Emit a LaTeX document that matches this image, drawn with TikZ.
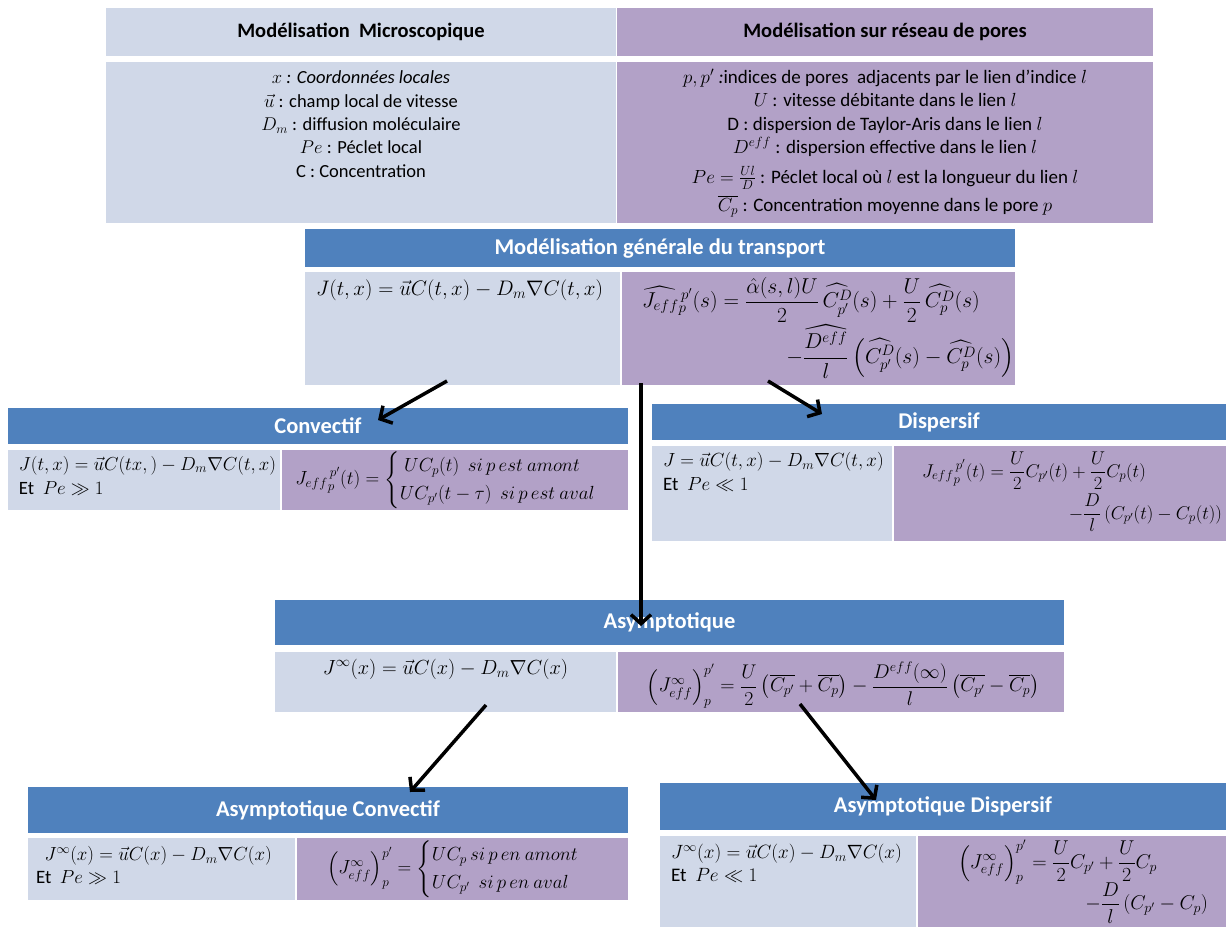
\RequirePackage{fix-cm}
\documentclass[tikz,border=0pt]{standalone}
\usepackage{amsmath,amssymb}
\usepackage[no-math]{fontspec}
\setmainfont{Carlito}
\usetikzlibrary{arrows.meta,calc}
\definecolor{hblue}{HTML}{4F81BD}
\definecolor{lblue}{HTML}{D0D8E8}
\definecolor{lpurp}{HTML}{B2A1C7}
\newcommand\fsz[2]{\fontsize{#1}{#2}\selectfont}
\begin{document}
\begin{tikzpicture}[x=1pt,y=-1pt,
  cell/.style={inner sep=0pt, outer sep=0pt, anchor=north west, draw=none},
  hdr/.style={cell, fill=hblue, text=white, font=\fontsize{22.5}{27}\selectfont\bfseries},
  thdr/.style={cell, text=black, font=\fontsize{20.5}{25}\selectfont\bfseries},
  lb/.style={cell, fill=lblue},
  pb/.style={cell, fill=lpurp},
  txt/.style={inner sep=0pt, outer sep=0pt, text=black},
  conn/.style={line width=3.5pt, draw=black, -{Straight Barb[length=9pt,width=20pt]}}
]
\useasboundingbox (0,0) rectangle (1226,927);
% top row
\node[thdr, fill=lblue, minimum width=510pt, minimum height=48pt] (topLH) at (106,8) {Modélisation\ \ Microscopique};
\node[thdr, fill=lpurp, minimum width=536pt, minimum height=48pt] (topRH) at (617,8) {Modélisation sur réseau de pores};
\node[lb, minimum width=510pt, minimum height=161pt] (topLB) at (106,62) {};
\node[pb, minimum width=536pt, minimum height=161pt] (topRB) at (617,62) {};
\node[txt, anchor=north, align=center, font=\fsz{18.5}{23.3}] (topLT) at ($(topLB.north)+(0,9)$)
 {$x$\textit{ : Coordonnées locales}\\ $\vec{u}$ : champ local de vitesse\\ $D_m$ : diffusion moléculaire\\ $Pe$ : Péclet local\\ C : Concentration};
\node[txt, anchor=north, align=center, font=\fsz{19}{23.5}] (topRT) at ($(topRB.north)+(0,7)$)
 {$p,p'$\textit{ :}indices de pores\ \ adjacents par le lien d’indice $l$\\ $U$ : vitesse débitante dans le lien $l$\\ D : dispersion de Taylor-Aris dans le lien $l$\\ $D^{eff}$ : dispersion effective dans le lien $l$\\[6pt] $Pe=\frac{Ul}{D}$ : Péclet local où $l$ est la longueur du lien $l$\\[5pt] $\overline{C_p}$ : Concentration moyenne dans le pore $p$};
% general
\node[hdr, minimum width=710pt, minimum height=38pt] (genH) at (305,229) {Modélisation générale du transport};
\node[lb, minimum width=315pt, minimum height=113pt] (genL) at (305,272) {};
\node[pb, minimum width=393pt, minimum height=113pt] (genR) at (622,272) {};
\node[txt, anchor=north west, font=\fsz{21}{26}] (genLT) at ($(genL.north west)+(11,8)$) {$J(t,x)=\vec{u}C(t,x)-D_m\nabla C(t,x)$};
\node[txt, anchor=north west, text width=372pt, align=left, font=\fsz{21.5}{25}] (genRT) at ($(genR.north west)+(20,5)$)
 {$\widehat{J_{eff}}{}_p^{\,p'}(s)=\dfrac{\hat{\alpha}(s,l)U}{2}\,\widehat{C^D_{p'}}(s)+\dfrac{U}{2}\,\widehat{C^D_p}(s)$\\[1pt]
  \hspace*{\fill}$-\dfrac{\widehat{D^{eff}}}{l}\left(\widehat{C^D_{p'}}(s)-\widehat{C^D_p}(s)\right)$};
% convectif
\node[hdr, minimum width=620pt, minimum height=36pt] (convH) at (8,408) {Convectif};
\node[lb, minimum width=272pt, minimum height=60pt] (convL) at (8,450) {};
\node[pb, minimum width=346pt, minimum height=60pt] (convR) at (282,450) {};
\node[txt, anchor=north west, align=left, font=\fsz{18.8}{24}] (convLT) at ($(convL.north west)+(11,6)$)
 {$J(t,x)=\vec{u}C(tx,)-D_m\nabla C(t,x)$\\ Et\ \ $Pe\gg1$};
\node[txt, anchor=center, font=\fsz{19}{23}] (convRT) at ($(convR.center)+(0,0)$)
 {${J_{eff}}_p^{\,p'}(t)=\begin{cases}\ UC_p(t)\ \ si\,p\,est\ amont\\ UC_{p'}(t-\tau)\ \ si\,p\,est\ aval\end{cases}$};
% dispersif
\node[hdr, minimum width=574pt, minimum height=36pt] (dispH) at (652,404) {Dispersif};
\node[lb, minimum width=240pt, minimum height=95pt] (dispL) at (652,446) {};
\node[pb, minimum width=332pt, minimum height=95pt] (dispR) at (894,446) {};
\node[txt, anchor=north west, align=left, font=\fsz{19}{24}] (dispLT) at ($(dispL.north west)+(11,6)$)
 {$J=\vec{u}C(t,x)-D_m\nabla C(t,x)$\\ Et\ \ $Pe\ll1$};
\node[txt, anchor=north west, text width=300pt, align=left, font=\fsz{18.5}{23}] (dispRT) at ($(dispR.north west)+(28,6)$)
 {${J_{eff}}_p^{\,p'}(t)=\dfrac{U}{2}C_{p'}(t)+\dfrac{U}{2}C_p(t)$\\[3pt]
  \hspace*{\fill}$-\dfrac{D}{l}\left(C_{p'}(t)-C_p(t)\right)$};
% asymptotique
\node[hdr, minimum width=789pt, minimum height=45pt] (asH) at (275,600) {Asymptotique};
\node[lb, minimum width=341pt, minimum height=60pt] (asL) at (275,652) {};
\node[pb, minimum width=446pt, minimum height=60pt] (asR) at (618,652) {};
\node[txt, anchor=north, font=\fsz{20.4}{25}] (asLT) at ($(asL.north)+(0,7)$) {$J^{\infty}(x)=\vec{u}C(x)-D_m\nabla C(x)$};
\node[txt, anchor=center, font=\fsz{19.8}{24}] (asRT) at ($(asR.center)+(2,3)$)
 {$\left(J^{\infty}_{eff}\right)_p^{p'}=\dfrac{U}{2}\left(\overline{C_{p'}}+\overline{C_p}\right)-\dfrac{D^{eff}(\infty)}{l}\left(\overline{C_{p'}}-\overline{C_p}\right)$};
% asymptotique convectif
\node[hdr, minimum width=600pt, minimum height=46pt] (acH) at (28,787) {Asymptotique Convectif};
\node[lb, minimum width=267pt, minimum height=62pt] (acL) at (28,838) {};
\node[pb, minimum width=331pt, minimum height=62pt] (acR) at (297,838) {};
\node[txt, anchor=north west, align=left, font=\fsz{18.9}{23.5}] (acLT) at ($(acL.north west)+(8,8)$)
 {\ \ $J^{\infty}(x)=\vec{u}C(x)-D_m\nabla C(x)$\\ Et\ \ $Pe\gg1$};
\node[txt, anchor=center, font=\fsz{19}{23}] (acRT) at ($(acR.center)+(0,0)$)
 {$\left(J^{\infty}_{eff}\right)_p^{p'}=\begin{cases}UC_p\,si\,p\,en\ amont\\ UC_{p'}\ \ si\,p\,en\ aval\end{cases}$};
% asymptotique dispersif
\node[hdr, minimum width=566pt, minimum height=47pt] (adH) at (660,783) {Asymptotique Dispersif};
\node[lb, minimum width=256pt, minimum height=91pt] (adL) at (660,836) {};
\node[pb, minimum width=308pt, minimum height=91pt] (adR) at (918,836) {};
\node[txt, anchor=north west, align=left, font=\fsz{19.2}{23.5}] (adLT) at ($(adL.north west)+(11,8)$)
 {$J^{\infty}(x)=\vec{u}C(x)-D_m\nabla C(x)$\\ Et\ \ $Pe\ll1$};
\node[txt, anchor=north west, text width=250pt, align=left, font=\fsz{20}{23}] (adRT) at ($(adR.north west)+(40,4)$)
 {$\left(J^{\infty}_{eff}\right)_p^{p'}=\dfrac{U}{2}C_{p'}+\dfrac{U}{2}C_p$\\[-3pt]
  \hspace*{\fill}$-\dfrac{D}{l}\left(C_{p'}-C_p\right)$};
% connectors
\coordinate (a1s) at ($(genL.south west)+(142,-4)$);
\coordinate (a1e) at ($(convH.north west)+(370,12)$);
\coordinate (a2s) at ($(genR.south west)+(146,-4)$);
\coordinate (a2e) at ($(dispH.north west)+(170,10)$);
\coordinate (a3s) at ($(genR.south west)+(19,-2)$);
\coordinate (a3e) at ($(asH.north west)+(366,26)$);
\coordinate (a4s) at ($(asL.south west)+(211,-7)$);
\coordinate (a4e) at ($(acH.north west)+(382,5)$);
\coordinate (a5s) at ($(asR.south west)+(182,-8)$);
\coordinate (a5e) at ($(adH.north west)+(216,17)$);
\draw[conn] (a1s) -- (a1e);
\draw[conn] (a2s) -- (a2e);
\draw[conn] (a3s) -- (a3e);
\draw[conn] (a4s) -- (a4e);
\draw[conn] (a5s) -- (a5e);
\end{tikzpicture}
\end{document}
